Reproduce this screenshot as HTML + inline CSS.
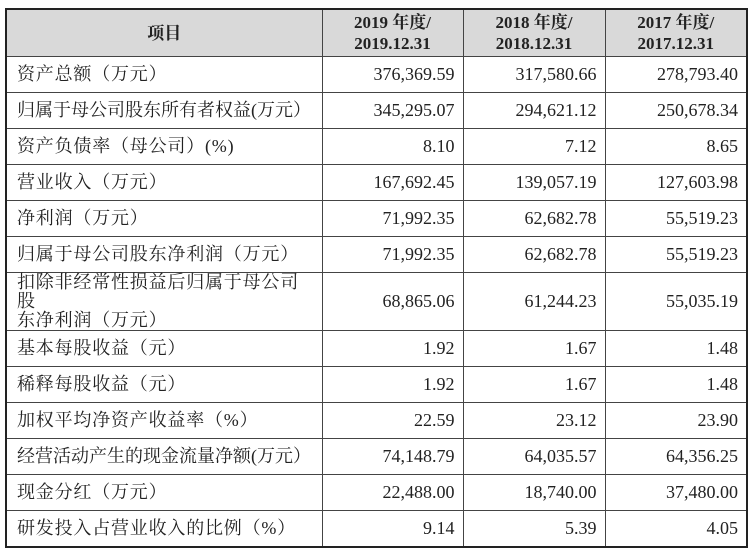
<!DOCTYPE html>
<html><head><meta charset="utf-8"><style>
html,body{margin:0;padding:0;background:#fff;width:750px;height:545px;overflow:hidden}
table{position:absolute;left:5px;top:8px;border-collapse:collapse;table-layout:fixed;border:2.5px solid #222;
font-family:"Liberation Serif","Noto Serif CJK SC",serif;font-size:18px;color:#222}
td,th{border:1px solid #444;padding:0 8px;height:35px;line-height:19px}
th{background:#d9d9d9;font-weight:bold;text-align:center;height:46px;line-height:21px;font-size:17px}
td.l{text-align:left;padding-left:10px;padding-right:4px;letter-spacing:0.8px}
td.n{text-align:right}
tr.dbl td{height:48px}
</style></head><body>
<table>
<colgroup><col style="width:316px"><col style="width:141px"><col style="width:142px"><col style="width:142px"></colgroup>
<tr><th>项目</th><th>2019 年度/<br>2019.12.31</th><th>2018 年度/<br>2018.12.31</th><th>2017 年度/<br>2017.12.31</th></tr>
<tr><td class="l">资产总额（万元）</td><td class="n">376,369.59</td><td class="n">317,580.66</td><td class="n">278,793.40</td></tr>
<tr><td class="l" style="letter-spacing:0">归属于母公司股东所有者权益(万元）</td><td class="n">345,295.07</td><td class="n">294,621.12</td><td class="n">250,678.34</td></tr>
<tr><td class="l">资产负债率（母公司）(%)</td><td class="n">8.10</td><td class="n">7.12</td><td class="n">8.65</td></tr>
<tr><td class="l">营业收入（万元）</td><td class="n">167,692.45</td><td class="n">139,057.19</td><td class="n">127,603.98</td></tr>
<tr><td class="l">净利润（万元）</td><td class="n">71,992.35</td><td class="n">62,682.78</td><td class="n">55,519.23</td></tr>
<tr><td class="l">归属于母公司股东净利润（万元）</td><td class="n">71,992.35</td><td class="n">62,682.78</td><td class="n">55,519.23</td></tr>
<tr class="dbl"><td class="l">扣除非经常性损益后归属于母公司股<br>东净利润（万元）</td><td class="n">68,865.06</td><td class="n">61,244.23</td><td class="n">55,035.19</td></tr>
<tr><td class="l">基本每股收益（元）</td><td class="n">1.92</td><td class="n">1.67</td><td class="n">1.48</td></tr>
<tr><td class="l">稀释每股收益（元）</td><td class="n">1.92</td><td class="n">1.67</td><td class="n">1.48</td></tr>
<tr><td class="l">加权平均净资产收益率（%）</td><td class="n">22.59</td><td class="n">23.12</td><td class="n">23.90</td></tr>
<tr><td class="l" style="letter-spacing:0">经营活动产生的现金流量净额(万元）</td><td class="n">74,148.79</td><td class="n">64,035.57</td><td class="n">64,356.25</td></tr>
<tr><td class="l">现金分红（万元）</td><td class="n">22,488.00</td><td class="n">18,740.00</td><td class="n">37,480.00</td></tr>
<tr><td class="l">研发投入占营业收入的比例（%）</td><td class="n">9.14</td><td class="n">5.39</td><td class="n">4.05</td></tr>
</table>
</body></html>
